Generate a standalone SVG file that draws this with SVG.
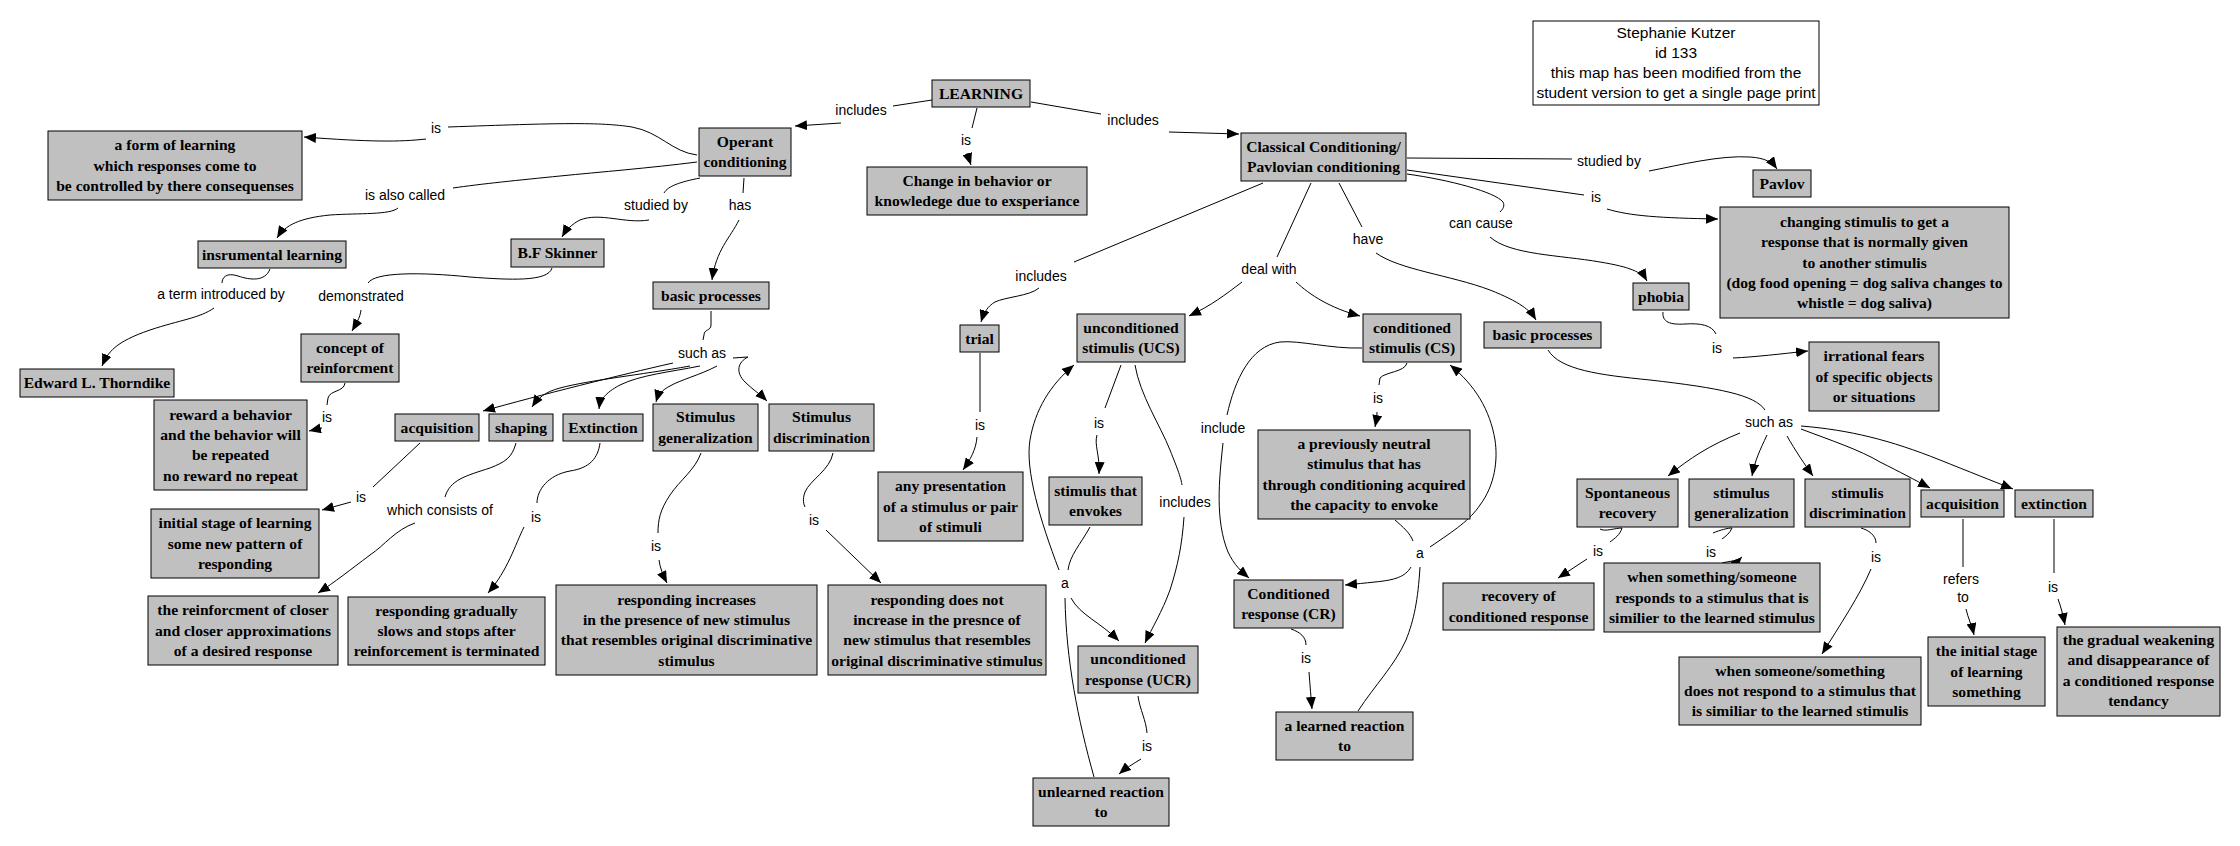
<svg xmlns="http://www.w3.org/2000/svg" width="2240" height="846" viewBox="0 0 2240 846">
<style>
.n rect{fill:#c0c0c0;stroke:#000;stroke-width:1}
.n text{font-family:"Liberation Serif","Times New Roman",serif;font-weight:bold;font-size:15.6px;fill:#000;text-anchor:middle}
.c path{fill:none;stroke:#000;stroke-width:1}
.c path.a{marker-end:url(#ah)}
.l text{font-family:"Liberation Sans",Arial,sans-serif;font-size:14px;fill:#000;text-anchor:middle}
.info rect{fill:#fff;stroke:#000;stroke-width:1}
.info text{font-family:"Liberation Sans",Arial,sans-serif;font-size:15.5px;fill:#000;text-anchor:middle}
</style>
<defs>
<marker id="ah" viewBox="0 0 12 10" refX="12" refY="5" markerWidth="12" markerHeight="10" markerUnits="userSpaceOnUse" orient="auto"><path d="M0,0 L12,5 L0,10 z" fill="#000"/></marker>
</defs>
<rect width="2240" height="846" fill="#fff"/>
<g class="c" id="connectors">
<path d="M932,100 L893,106"/>
<path class="a" d="M841,123 L795,126"/>
<path d="M977,108 L972,128"/>
<path class="a" d="M967,153 L971,165"/>
<path d="M1031,102 L1101,114"/>
<path class="a" d="M1169,132 L1239,134"/>
<path d="M697,155 C672,152 660,132 632,127 C600,122 560,123 448,127"/>
<path class="a" d="M426,139 C400,142 370,142 304,137"/>
<path d="M697,162 C650,168 600,172 560,176 C520,180 480,184 453,188"/>
<path class="a" d="M398,208 C390,215 360,213 330,215 C300,218 285,225 277,238"/>
<path d="M270,269 C265,282 250,280 238,276 C226,272 222,278 222,283"/>
<path class="a" d="M214,308 C200,318 180,320 150,330 C115,342 108,352 102,366"/>
<path d="M700,178 C680,182 668,186 664,193"/>
<path class="a" d="M649,220 C625,224 600,212 580,220 C572,224 566,230 562,237"/>
<path d="M744,178 L743,193"/>
<path class="a" d="M739,220 C730,238 716,250 712,280"/>
<path d="M552,268 C548,282 510,280 470,277 C420,272 375,272 368,283"/>
<path class="a" d="M361,310 C360,318 356,324 352,331"/>
<path d="M345,383 C344,392 330,390 328,398 L327,405"/>
<path class="a" d="M322,428 L309,431"/>
<path d="M711,311 L711,325 C711,331 704,329 704,335 L703,340"/>
<path class="a" d="M673,363 C620,375 540,395 483,411"/>
<path class="a" d="M690,366 C640,375 590,380 560,388 C545,392 538,398 532,407"/>
<path class="a" d="M700,366 C670,372 640,375 620,385 C605,393 600,400 599,409"/>
<path class="a" d="M717,366 C700,375 680,380 670,386 C662,390 658,395 656,402"/>
<path class="a" d="M733,358 L748,357 C738,362 735,372 745,382 C752,389 760,394 767,401"/>
<path d="M420,443 L373,487"/>
<path class="a" d="M351,502 L322,510"/>
<path d="M516,443 C512,458 505,462 490,468 C465,476 450,480 445,497"/>
<path class="a" d="M415,523 C395,530 385,545 370,555 C350,570 335,582 318,593"/>
<path d="M600,443 C598,458 590,468 570,471 C548,475 537,490 537,503"/>
<path class="a" d="M524,527 C515,545 508,570 488,593"/>
<path d="M701,453 C695,470 680,480 670,495 C660,510 658,520 658,533"/>
<path class="a" d="M659,560 C660,568 663,575 667,583"/>
<path d="M833,453 C830,470 810,480 805,492 C802,500 804,505 805,507"/>
<path class="a" d="M826,530 L881,583"/>
<path d="M1263,183 L1074,262"/>
<path class="a" d="M1039,288 C1030,296 1005,297 995,302 C988,306 984,312 981,322"/>
<path d="M980,353 L980,412"/>
<path class="a" d="M977,437 C976,450 970,460 963,470"/>
<path d="M1311,183 L1277,257"/>
<path class="a" d="M1242,282 C1225,295 1212,305 1189,316"/>
<path class="a" d="M1296,282 C1310,295 1330,308 1360,316"/>
<path d="M1339,183 L1362,227"/>
<path class="a" d="M1376,253 C1400,270 1450,275 1490,290 C1520,302 1530,310 1536,320"/>
<path d="M1407,174 C1450,180 1495,192 1503,202 C1505,206 1503,209 1500,212"/>
<path class="a" d="M1490,237 C1510,255 1560,255 1600,262 C1630,267 1642,272 1647,281"/>
<path d="M1407,158 L1572,159"/>
<path class="a" d="M1649,171 C1680,165 1720,155 1750,157 C1765,158 1772,162 1777,169"/>
<path d="M1407,170 L1584,195"/>
<path class="a" d="M1607,209 C1630,216 1660,218 1718,219"/>
<path d="M1663,312 C1662,322 1670,325 1685,324 C1700,323 1712,325 1716,334"/>
<path class="a" d="M1733,358 C1755,357 1780,354 1808,351"/>
<path d="M1121,365 L1105,408"/>
<path class="a" d="M1097,435 C1094,445 1100,455 1099,474"/>
<path d="M1135,365 C1140,395 1160,425 1170,450 C1178,470 1181,478 1182,485"/>
<path class="a" d="M1184,517 C1182,545 1178,565 1170,590 C1162,612 1152,628 1145,643"/>
<path d="M1090,527 C1080,545 1070,555 1068,570"/>
<path class="a" d="M1059,570 C1040,520 1025,470 1030,440 C1035,410 1050,385 1074,365"/>
<path class="a" d="M1071,598 C1080,615 1100,622 1119,641"/>
<path d="M1065,598 C1066,660 1078,720 1094,777"/>
<path d="M1138,696 C1140,710 1146,720 1147,733"/>
<path class="a" d="M1141,759 C1133,764 1126,768 1119,774"/>
<path d="M1407,363 C1405,372 1385,372 1380,378 L1379,385"/>
<path class="a" d="M1377,412 C1377,418 1376,422 1375,427"/>
<path d="M1362,348 C1330,349 1300,340 1280,342 C1250,346 1235,380 1227,415"/>
<path class="a" d="M1223,443 C1219,480 1215,520 1228,552 C1234,565 1242,572 1249,578"/>
<path d="M1395,520 C1403,527 1410,533 1413,541"/>
<path class="a" d="M1430,547 C1455,530 1470,520 1480,505 C1495,485 1498,460 1495,440 C1490,410 1475,385 1450,365"/>
<path class="a" d="M1411,567 C1405,577 1395,580 1375,582 C1365,583 1356,584 1345,585"/>
<path d="M1420,567 C1418,600 1414,620 1406,640 C1395,665 1375,685 1358,711"/>
<path d="M1291,629 C1300,632 1306,637 1306,645"/>
<path class="a" d="M1309,672 C1310,685 1311,698 1312,709"/>
<path d="M1548,350 C1560,370 1600,375 1650,380 C1720,388 1755,395 1765,410"/>
<path class="a" d="M1740,433 C1710,445 1690,458 1668,476"/>
<path class="a" d="M1767,435 C1760,450 1755,460 1752,476"/>
<path class="a" d="M1787,436 C1795,450 1805,465 1813,476"/>
<path class="a" d="M1801,429 C1830,440 1860,450 1880,462 C1900,472 1915,480 1930,488"/>
<path class="a" d="M1801,426 C1850,430 1890,440 1940,460 C1970,472 1990,480 2013,489"/>
<path d="M1600,529 C1605,532 1615,528 1622,528 C1620,535 1615,538 1610,542"/>
<path class="a" d="M1587,559 L1558,578"/>
<path d="M1713,533 C1720,530 1728,528 1732,528 C1730,533 1726,536 1722,539"/>
<path class="a" d="M1722,563 C1730,561 1738,561 1742,557"/>
<path d="M1861,528 C1868,530 1876,535 1876,543"/>
<path class="a" d="M1871,569 C1860,595 1840,625 1822,654"/>
<path d="M1963,519 L1963,567"/>
<path class="a" d="M1966,609 C1968,618 1972,626 1974,635"/>
<path d="M2054,519 L2054,573"/>
<path class="a" d="M2058,599 C2061,607 2063,615 2065,625"/>
</g>
<g class="l" id="labels">
<text x="861" y="115">includes</text>
<text x="966" y="145">is</text>
<text x="1133" y="125">includes</text>
<text x="436" y="133">is</text>
<text x="405" y="200">is also called</text>
<text x="656" y="210">studied by</text>
<text x="740" y="210">has</text>
<text x="221" y="299">a term introduced by</text>
<text x="361" y="301">demonstrated</text>
<text x="327" y="422">is</text>
<text x="702" y="358">such as</text>
<text x="361" y="502">is</text>
<text x="440" y="515">which consists of</text>
<text x="536" y="522">is</text>
<text x="656" y="551">is</text>
<text x="814" y="525">is</text>
<text x="1041" y="281">includes</text>
<text x="980" y="430">is</text>
<text x="1269" y="274">deal with</text>
<text x="1368" y="244">have</text>
<text x="1481" y="228">can cause</text>
<text x="1609" y="166">studied by</text>
<text x="1596" y="202">is</text>
<text x="1717" y="353">is</text>
<text x="1099" y="428">is</text>
<text x="1185" y="507">includes</text>
<text x="1065" y="588">a</text>
<text x="1147" y="751">is</text>
<text x="1223" y="433">include</text>
<text x="1378" y="403">is</text>
<text x="1420" y="558">a</text>
<text x="1306" y="663">is</text>
<text x="1769" y="427">such as</text>
<text x="1598" y="556">is</text>
<text x="1711" y="557">is</text>
<text x="1876" y="562">is</text>
<text x="1961" y="584">refers</text>
<text x="1963" y="602">to</text>
<text x="2053" y="592">is</text>
</g>
<g class="n" id="learning"><rect x="932" y="80" width="98" height="27"/><text x="981" y="98.5">LEARNING</text></g>
<g class="n" id="operant"><rect x="699" y="128" width="92" height="48"/><text x="745" y="146.9">Operant</text><text x="745" y="167.2">conditioning</text></g>
<g class="n" id="change"><rect x="867" y="167" width="220" height="48"/><text x="977" y="185.9">Change in behavior or</text><text x="977" y="206.2">knowledege due to exsperiance</text></g>
<g class="n" id="classical"><rect x="1241" y="133" width="165" height="48"/><text x="1323.5" y="151.9">Classical Conditioning/</text><text x="1323.5" y="172.2">Pavlovian conditioning</text></g>
<g class="n" id="form"><rect x="48" y="131" width="254" height="69"/><text x="175" y="150.2">a form of learning</text><text x="175" y="170.5">which responses come to</text><text x="175" y="190.8">be controlled by there consequenses</text></g>
<g class="n" id="instrumental"><rect x="198" y="241" width="148" height="27"/><text x="272" y="259.5">insrumental learning</text></g>
<g class="n" id="skinner"><rect x="511" y="239" width="93" height="28"/><text x="557.5" y="258">B.F Skinner</text></g>
<g class="n" id="thorndike"><rect x="20" y="369" width="154" height="28"/><text x="97" y="388">Edward L. Thorndike</text></g>
<g class="n" id="concept"><rect x="301" y="334" width="98" height="48"/><text x="350" y="352.9">concept of</text><text x="350" y="373.2">reinforcment</text></g>
<g class="n" id="reward"><rect x="154" y="400" width="153" height="90"/><text x="230.5" y="419.6">reward a behavior</text><text x="230.5" y="439.9">and the behavior will</text><text x="230.5" y="460.2">be repeated</text><text x="230.5" y="480.5">no reward no repeat</text></g>
<g class="n" id="basic-left"><rect x="653" y="282" width="116" height="27"/><text x="711" y="300.5">basic processes</text></g>
<g class="n" id="acquisition-left"><rect x="395" y="414" width="84" height="27"/><text x="437" y="432.5">acquisition</text></g>
<g class="n" id="shaping"><rect x="489" y="414" width="64" height="27"/><text x="521" y="432.5">shaping</text></g>
<g class="n" id="extinction-left"><rect x="563" y="414" width="80" height="27"/><text x="603" y="432.5">Extinction</text></g>
<g class="n" id="stimgen-left"><rect x="653" y="404" width="105" height="47"/><text x="705.5" y="422.4">Stimulus</text><text x="705.5" y="442.7">generalization</text></g>
<g class="n" id="stimdisc-left"><rect x="769" y="404" width="105" height="47"/><text x="821.5" y="422.4">Stimulus</text><text x="821.5" y="442.7">discrimination</text></g>
<g class="n" id="initial-left"><rect x="151" y="509" width="168" height="69"/><text x="235" y="528.2">initial stage of learning</text><text x="235" y="548.5">some new pattern of</text><text x="235" y="568.8">responding</text></g>
<g class="n" id="closer"><rect x="148" y="596" width="190" height="69"/><text x="243" y="615.2">the reinforcment of closer</text><text x="243" y="635.5">and closer approximations</text><text x="243" y="655.8">of a desired response</text></g>
<g class="n" id="gradually"><rect x="348" y="597" width="197" height="68"/><text x="446.5" y="615.7">responding gradually</text><text x="446.5" y="636">slows and stops after</text><text x="446.5" y="656.3">reinforcement is terminated</text></g>
<g class="n" id="increases"><rect x="556" y="585" width="261" height="90"/><text x="686.5" y="604.6">responding increases</text><text x="686.5" y="624.9">in the presence of new stimulus</text><text x="686.5" y="645.2">that resembles original discriminative</text><text x="686.5" y="665.5">stimulus</text></g>
<g class="n" id="notincrease"><rect x="828" y="585" width="218" height="90"/><text x="937" y="604.6">responding does not</text><text x="937" y="624.9">increase in the presnce of</text><text x="937" y="645.2">new stimulus that resembles</text><text x="937" y="665.5">original discriminative stimulus</text></g>
<g class="n" id="trial"><rect x="960" y="325" width="39" height="27"/><text x="979.5" y="343.5">trial</text></g>
<g class="n" id="presentation"><rect x="878" y="472" width="145" height="69"/><text x="950.5" y="491.2">any presentation</text><text x="950.5" y="511.5">of a stimulus or pair</text><text x="950.5" y="531.8">of stimuli</text></g>
<g class="n" id="ucs"><rect x="1077" y="314" width="108" height="48"/><text x="1131" y="332.9">unconditioned</text><text x="1131" y="353.2">stimulis (UCS)</text></g>
<g class="n" id="envokes"><rect x="1049" y="477" width="93" height="48"/><text x="1095.5" y="495.9">stimulis that</text><text x="1095.5" y="516.2">envokes</text></g>
<g class="n" id="ucr"><rect x="1078" y="646" width="120" height="47"/><text x="1138" y="664.4">unconditioned</text><text x="1138" y="684.7">response (UCR)</text></g>
<g class="n" id="unlearned"><rect x="1033" y="778" width="136" height="48"/><text x="1101" y="796.9">unlearned reaction</text><text x="1101" y="817.2">to</text></g>
<g class="n" id="cs"><rect x="1363" y="314" width="98" height="48"/><text x="1412" y="332.9">conditioned</text><text x="1412" y="353.2">stimulis (CS)</text></g>
<g class="n" id="neutral"><rect x="1258" y="430" width="212" height="89"/><text x="1364" y="449.1">a previously neutral</text><text x="1364" y="469.4">stimulus that has</text><text x="1364" y="489.7">through conditioning acquired</text><text x="1364" y="510">the capacity to envoke</text></g>
<g class="n" id="cr"><rect x="1234" y="580" width="109" height="48"/><text x="1288.5" y="598.9">Conditioned</text><text x="1288.5" y="619.2">response (CR)</text></g>
<g class="n" id="learned"><rect x="1276" y="712" width="137" height="48"/><text x="1344.5" y="730.9">a learned reaction</text><text x="1344.5" y="751.2">to</text></g>
<g class="n" id="basic-right"><rect x="1484" y="322" width="117" height="26"/><text x="1542.5" y="340">basic processes</text></g>
<g class="n" id="phobia"><rect x="1633" y="283" width="56" height="27"/><text x="1661" y="301.5">phobia</text></g>
<g class="n" id="irrational"><rect x="1809" y="342" width="130" height="69"/><text x="1874" y="361.2">irrational fears</text><text x="1874" y="381.5">of specific objects</text><text x="1874" y="401.8">or situations</text></g>
<g class="n" id="pavlov"><rect x="1753" y="170" width="58" height="27"/><text x="1782" y="188.5">Pavlov</text></g>
<g class="n" id="changing"><rect x="1720" y="207" width="289" height="111"/><text x="1864.5" y="226.9">changing stimulis to get a</text><text x="1864.5" y="247.2">response that is normally given</text><text x="1864.5" y="267.5">to another stimulis</text><text x="1864.5" y="287.8">(dog food opening = dog saliva changes to</text><text x="1864.5" y="308.1">whistle = dog saliva)</text></g>
<g class="n" id="spontaneous"><rect x="1577" y="479" width="101" height="48"/><text x="1627.5" y="497.9">Spontaneous</text><text x="1627.5" y="518.2">recovery</text></g>
<g class="n" id="stimgen-right"><rect x="1689" y="479" width="105" height="48"/><text x="1741.5" y="497.9">stimulus</text><text x="1741.5" y="518.2">generalization</text></g>
<g class="n" id="stimdisc-right"><rect x="1805" y="479" width="105" height="48"/><text x="1857.5" y="497.9">stimulis</text><text x="1857.5" y="518.2">discrimination</text></g>
<g class="n" id="acquisition-right"><rect x="1921" y="490" width="83" height="27"/><text x="1962.5" y="508.5">acquisition</text></g>
<g class="n" id="extinction-right"><rect x="2015" y="490" width="78" height="27"/><text x="2054" y="508.5">extinction</text></g>
<g class="n" id="recovery"><rect x="1443" y="583" width="151" height="47"/><text x="1518.5" y="601.4">recovery of</text><text x="1518.5" y="621.7">conditioned response</text></g>
<g class="n" id="when-responds"><rect x="1604" y="563" width="216" height="69"/><text x="1712" y="582.2">when something/someone</text><text x="1712" y="602.5">responds to a stimulus that is</text><text x="1712" y="622.8">similier to the learned stimulus</text></g>
<g class="n" id="when-not"><rect x="1679" y="657" width="242" height="68"/><text x="1800" y="675.7">when someone/something</text><text x="1800" y="696">does not respond to a stimulus that</text><text x="1800" y="716.3">is similiar to the learned stimulis</text></g>
<g class="n" id="initial-right"><rect x="1928" y="637" width="117" height="69"/><text x="1986.5" y="656.2">the initial stage</text><text x="1986.5" y="676.5">of learning</text><text x="1986.5" y="696.8">something</text></g>
<g class="n" id="gradual"><rect x="2057" y="627" width="163" height="89"/><text x="2138.5" y="645.1">the gradual weakening</text><text x="2138.5" y="665.4">and disappearance of</text><text x="2138.5" y="685.7">a conditioned response</text><text x="2138.5" y="706">tendancy</text></g>
<g class="info" id="info"><rect x="1533" y="21" width="286" height="84"/><text x="1676" y="37.5">Stephanie Kutzer</text><text x="1676" y="57.5">id 133</text><text x="1676" y="77.5">this map has been modified from the</text><text x="1676" y="97.5">student version to get a single page print</text></g>
</svg>
